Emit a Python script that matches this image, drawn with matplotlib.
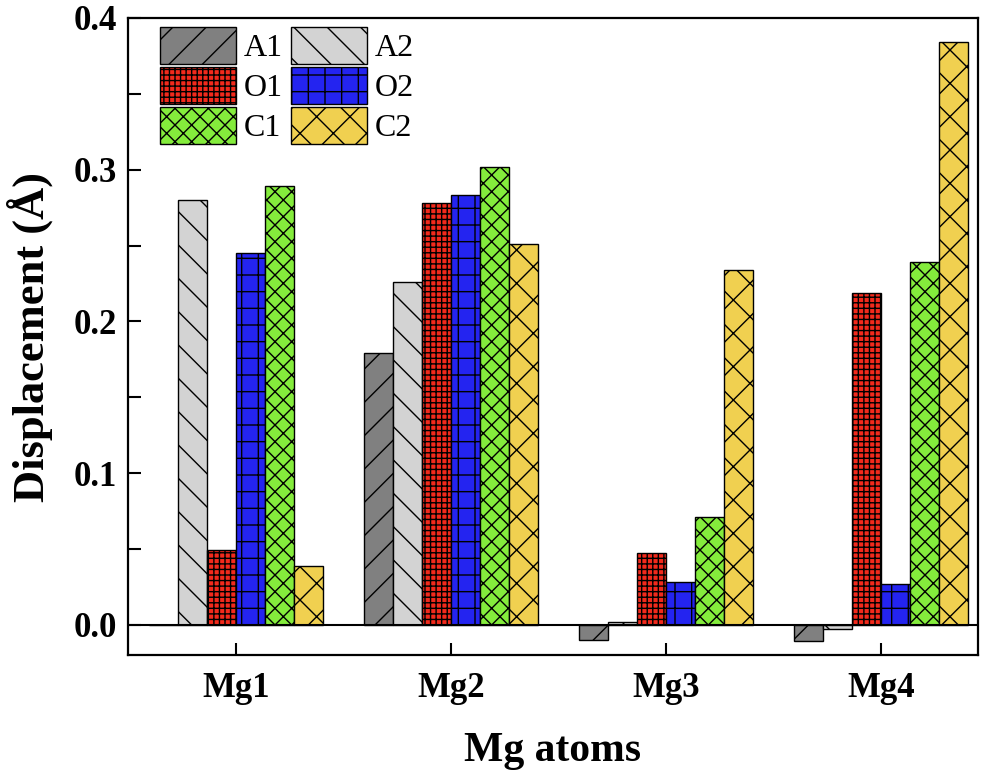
import matplotlib
matplotlib.use("Agg")
import matplotlib.pyplot as plt
import numpy as np

plt.rcParams['font.family'] = ['Liberation Serif', 'DejaVu Serif']
plt.rcParams['hatch.linewidth'] = 1.0

groups = ["Mg1", "Mg2", "Mg3", "Mg4"]
series = ["A1", "A2", "O1", "O2", "C1", "C2"]
A1 = [0.0, 0.179, -0.010, -0.011]
A2 = [0.280, 0.226, 0.002, -0.003]
O1 = [0.049, 0.278, 0.047, 0.219]
O2 = [0.245, 0.283, 0.028, 0.027]
C1 = [0.289, 0.302, 0.071, 0.239]
C2 = [0.039, 0.251, 0.234, 0.384]
values = [A1, A2, O1, O2, C1, C2]

colors = ["#808080", "#d3d3d3", "#f22a1c", "#2424f0", "#84ec3c", "#f0d050"]
hatches = ["/", "\\", "+++", "+", "xx", "x"]

fig = plt.figure(figsize=(9.9, 7.78), dpi=100)
ax = fig.add_axes([128/990, 1-655/778, 850/990, 637/778])

x = np.arange(len(groups))
w = 0.135
bars = []
for i, (name, vals) in enumerate(zip(series, values)):
    b = ax.bar(x + (i - 2.5) * w, vals, width=w, color=colors[i], edgecolor="black",
               linewidth=1.0, hatch=hatches[i], label=name)
    bars.append(b)

ax.axhline(0, color="black", linewidth=1.5, zorder=3)
ax.set_xlim(-0.502, 3.45)
ax.set_ylim(-0.02, 0.4)
ax.set_xticks(x)
ax.set_xticklabels(groups)
ax.set_yticks([0.0, 0.1, 0.2, 0.3, 0.4])
ax.set_yticks([0.05, 0.15, 0.25, 0.35], minor=True)
ax.set_yticklabels(["0.0", "0.1", "0.2", "0.3", "0.4"])
ax.tick_params(axis="both", which="both", direction="in", width=1.5, labelsize=25)
ax.tick_params(axis="y", which="major", length=9, pad=8)
ax.tick_params(axis="y", which="minor", length=9)
ax.tick_params(axis="x", which="major", length=9, pad=12)
for lab in ax.get_xticklabels() + ax.get_yticklabels():
    lab.set_fontweight("bold")
for s in ax.spines.values():
    s.set_linewidth(1.6)

ax.set_xlabel("Mg atoms", fontsize=30, fontweight="bold", labelpad=20)
ax.set_ylabel("Displacement (Å)", fontsize=32, fontweight="bold")
ax.yaxis.set_label_coords(-0.088, 0.5)

order = [0, 2, 4, 1, 3, 5]
leg = ax.legend([bars[k] for k in order], [series[k] for k in order],
                ncol=2, loc="upper left", bbox_to_anchor=(160/990, 1-27/778),
                bbox_transform=fig.transFigure, frameon=False, fontsize=23,
                handlelength=2.375, handleheight=1.4, labelspacing=0.1,
                handletextpad=0.25, columnspacing=0.25, borderpad=0, borderaxespad=0)

fig.savefig("out.png", dpi=100)
